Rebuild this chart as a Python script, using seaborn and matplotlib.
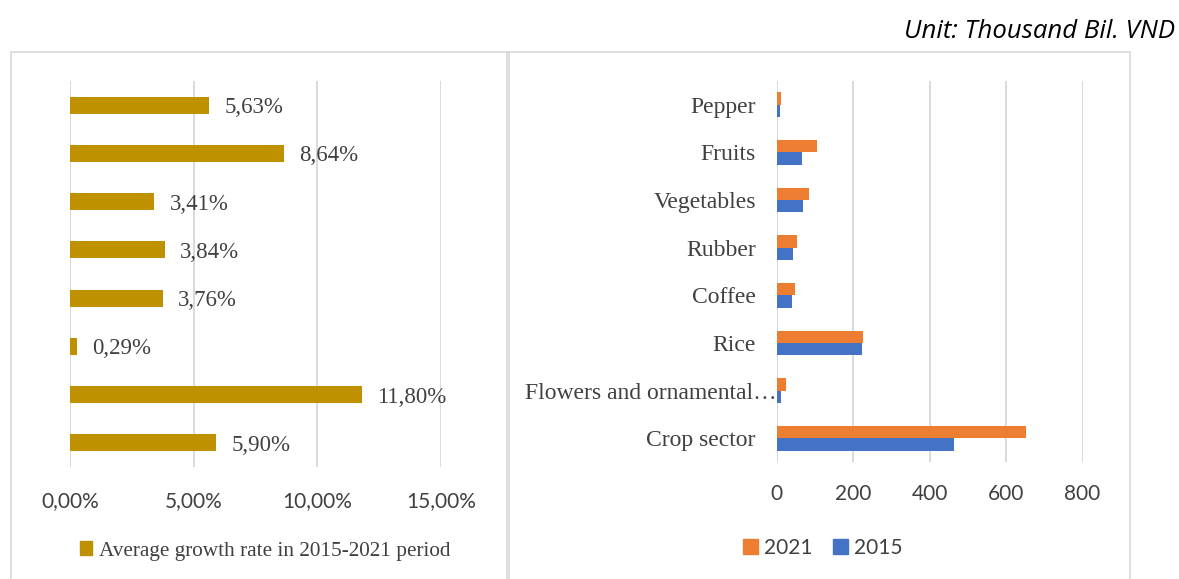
import matplotlib
matplotlib.use("Agg")
import matplotlib.pyplot as plt
from matplotlib.patches import Patch
from matplotlib.lines import Line2D
import seaborn as sns
import pandas as pd

# Crop sub-sectors (top to bottom)
categories = ["Pepper", "Fruits", "Vegetables", "Rubber", "Coffee", "Rice",
              "Flowers and ornamental…", "Crop sector"]
growth_pct = [5.63, 8.64, 3.41, 3.84, 3.76, 0.29, 11.80, 5.90]
value_2015 = [8.5, 65, 70, 43, 39, 222, 12, 464]
value_2021 = [12, 106, 85, 54, 49, 226, 23.5, 653]
years = ["2021", "2015"]
growth_ticks = [0, 5, 10, 15]
value_ticks = [0, 200, 400, 600, 800]

GOLD = "#BF9000"
ORANGE = "#ED7D31"
BLUE = "#4472C4"
GRID = "#D9D9D9"
TEXT = "#404040"
SERIF = "Liberation Serif"
SANS = "Lato"

sns.set_theme(style="white")
plt.rcParams["font.family"] = [SANS, "DejaVu Sans"]

W, H = 1179, 579
fig = plt.figure(figsize=(W / 100, H / 100), dpi=100)


def px_axes(x0, y0, x1, y1):
    return fig.add_axes([x0 / W, 1 - y1 / H, (x1 - x0) / W, (y1 - y0) / H])


# ---- left panel: average growth rate ----
axl = px_axes(70, 81, 441, 467)
sns.barplot(x=growth_pct, y=categories, color=GOLD, width=0.35, orient="h",
            saturation=1, linewidth=0, ax=axl)
axl.set_xlim(0, 15)
axl.set_ylim(len(categories) - 0.5, -0.5)
axl.set_xticks(growth_ticks)
axl.set_xticklabels([f"{t:.2f}%".replace(".", ",") for t in growth_ticks],
                    fontsize=15, color=TEXT, family=SANS)
axl.set_yticks([])
axl.set_xlabel("")
axl.set_ylabel("")
axl.tick_params(axis="x", length=0, pad=17.5)
axl.grid(axis="x", color=GRID, lw=1.4)
axl.set_axisbelow(True)
for s in axl.spines.values():
    s.set_visible(False)
for t in axl.bar_label(axl.containers[0],
                       labels=[f"{v:.2f}%".replace(".", ",") for v in growth_pct],
                       padding=11, fontsize=16.5, color=TEXT, family=SERIF):
    t.set_va("center_baseline")
    t.set_y(t.get_position()[1])

# ---- right panel: production value by year ----
df = pd.DataFrame({
    "category": categories * 2,
    "year": ["2021"] * len(categories) + ["2015"] * len(categories),
    "value": value_2021 + value_2015,
})
axr = px_axes(776.7, 81, 1082.5, 462)
sns.barplot(data=df, x="value", y="category", hue="year", hue_order=years,
            palette=[ORANGE, BLUE], width=0.52, orient="h", saturation=1,
            linewidth=0, legend=False, ax=axr)
axr.set_xlim(0, 800)
axr.set_ylim(len(categories) - 0.5, -0.5)
axr.set_xticks(value_ticks)
axr.set_xticklabels([str(t) for t in value_ticks], fontsize=15, color=TEXT,
                    family=SANS)
axr.set_xlabel("")
axr.set_ylabel("")
axr.tick_params(axis="x", length=0, pad=16)
axr.tick_params(axis="y", length=0, pad=15)
for lbl in axr.get_yticklabels():
    lbl.set_fontfamily(SERIF)
    lbl.set_fontsize(17)
    lbl.set_color(TEXT)
    if lbl.get_text().endswith("…"):
        lbl.set_x(0.068)
axr.grid(axis="x", color=GRID, lw=1.4)
axr.set_axisbelow(True)
for s in axr.spines.values():
    s.set_visible(False)

# ---- legends ----
fig.legend(handles=[Patch(color=GOLD, label="Average growth rate in 2015-2021 period")],
           loc="center", bbox_to_anchor=(265 / W, 1 - 551 / H), frameon=False,
           handlelength=0.6, handleheight=0.6, handletextpad=0.3,
           prop={"family": SERIF, "size": 15.3}, labelcolor=TEXT)
fig.legend(handles=[Patch(color=ORANGE, label="2021"), Patch(color=BLUE, label="2015")],
           loc="center", bbox_to_anchor=(823 / W, 1 - 548 / H), ncol=2,
           frameon=False, handlelength=0.7, handleheight=0.7, handletextpad=0.3,
           columnspacing=1.0, prop={"family": SANS, "size": 15}, labelcolor=TEXT)

# ---- panel frames ----
def frame_line(x0, y0, x1, y1):
    fig.add_artist(Line2D([x0 / W, x1 / W], [1 - y0 / H, 1 - y1 / H],
                          color=GRID, lw=1.2, transform=fig.transFigure))


frame_line(11, 52, 507, 52)
frame_line(11, 52, 11, 579)
frame_line(507, 52, 507, 579)
frame_line(508, 52, 1130, 52)
frame_line(509, 52, 509, 579)
frame_line(1130, 52, 1130, 579)

fig.text(1175 / W, 1 - 31 / H, "Unit: Thousand Bil. VND", ha="right",
         va="center", fontsize=18.5, style="italic", family="Open Sans",
         color="black")

fig.savefig("out.png", dpi=100)
